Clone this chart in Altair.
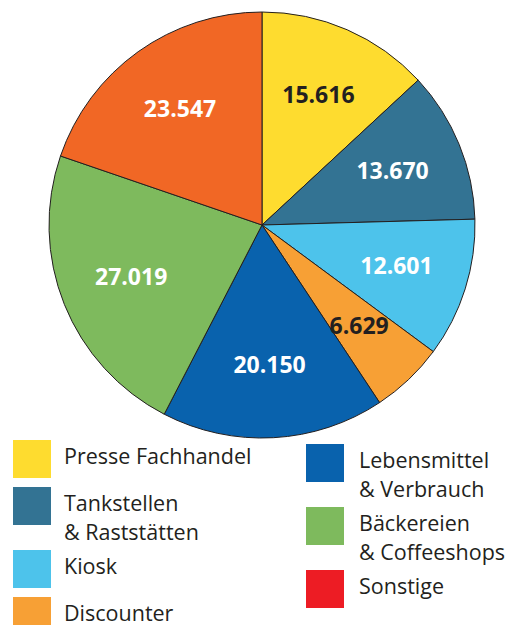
import altair as alt
import pandas as pd

# ---- data ----
categories = ["Presse Fachhandel", "Tankstellen & Raststätten", "Kiosk", "Discounter",
              "Lebensmittel & Verbrauch", "Bäckereien & Coffeeshops", "Sonstige"]
values = [15616, 13670, 12601, 6629, 20150, 27019, 23547]
slice_colors = ["#FEDC2F", "#337393", "#4DC3EB", "#F7A035", "#0962AD", "#7EBA5D", "#F16725"]
label_colors = ["#231f20", "#ffffff", "#ffffff", "#231f20", "#ffffff", "#ffffff", "#ffffff"]
legend_labels = ["Presse Fachhandel", "Tankstellen\n& Raststätten", "Kiosk", "Discounter",
                 "Lebensmittel\n& Verbrauch", "Bäckereien\n& Coffeeshops", "Sonstige"]
legend_colors = ["#FEDC2F", "#337393", "#4DC3EB", "#F7A035", "#0962AD", "#7EBA5D", "#ED1C24"]
legend_column = [0, 0, 0, 0, 1, 1, 1]

# ---- layout ----
W, H = 500, 617
CX, CY, R = 254, 217, 213
FONT = "Open Sans"

pie_df = pd.DataFrame({
    "category": categories,
    "value": values,
    "order": list(range(len(values))),
    "label": [f"{v:,}".replace(",", ".") for v in values],
    "lc": label_colors,
})

col_sq_x = [5, 298]
col_tx_x = [56, 351]
col_top = [432, 436]
rows = []
cur = dict(enumerate(col_top))
for lab, colr, c in zip(legend_labels, legend_colors, legend_column):
    top = cur[c]
    n = lab.count("\n") + 1
    rows.append({"label": lab, "color": colr, "x": col_sq_x[c], "x2": col_sq_x[c] + 38,
                 "y": top, "y2": top + 38, "tx": col_tx_x[c], "ty": top + 24})
    cur[c] = top + 47 + 16 * (n - 1)
leg_df = pd.DataFrame(rows)

xs = alt.Scale(domain=[0, W], range=[0, W], nice=False, zero=False)
ys = alt.Scale(domain=[0, H], range=[0, H], nice=False, zero=False)

base = alt.Chart(pie_df).encode(
    theta=alt.Theta("value:Q", stack=True),
    order=alt.Order("order:Q"),
)

arcs = base.mark_arc(radius=R, stroke="#231f20", strokeWidth=1).encode(
    color=alt.Color("category:N", scale=alt.Scale(domain=categories, range=slice_colors), legend=None),
    x=alt.value(CX), y=alt.value(CY),
)

labels = base.mark_text(radius=141, font=FONT, fontSize=23, fontWeight="bold").encode(
    text="label:N",
    color=alt.Color("lc:N", scale=None),
    x=alt.value(CX), y=alt.value(CY),
)

squares = alt.Chart(leg_df).mark_rect().encode(
    x=alt.X("x:Q", scale=xs, axis=None), x2="x2:Q",
    y=alt.Y("y:Q", scale=ys, axis=None), y2="y2:Q",
    color=alt.Color("color:N", scale=None),
)

texts = alt.Chart(leg_df).mark_text(
    align="left", baseline="alphabetic", font=FONT, fontSize=21.5,
    lineBreak="\n", lineHeight=29, color="#231f20"
).encode(
    x=alt.X("tx:Q", scale=xs, axis=None),
    y=alt.Y("ty:Q", scale=ys, axis=None),
    text="label:N",
)

chart = alt.layer(arcs, labels, squares, texts).resolve_scale(color="independent").properties(
    width=W, height=H, padding=0, autosize=alt.AutoSizeParams(type="none")
).configure_view(stroke=None)

chart.save("out.html", embed_options={"renderer": "svg", "actions": False})
